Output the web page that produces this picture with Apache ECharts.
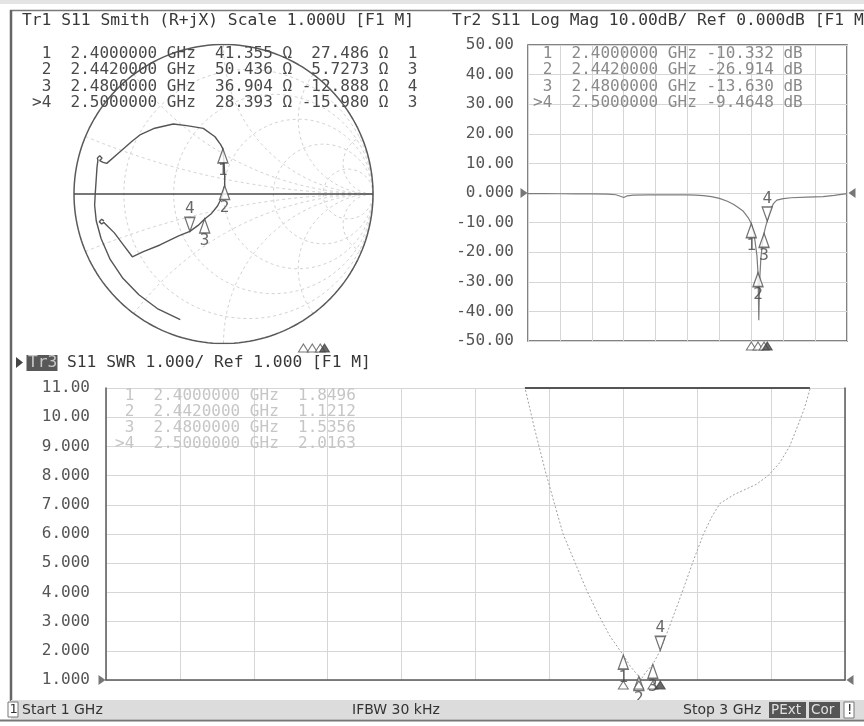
<!DOCTYPE html>
<html><head><meta charset="utf-8">
<script src="https://cdn.jsdelivr.net/npm/echarts@6/dist/echarts.min.js"></script>
<style>html,body{margin:0;padding:0;background:#fff}#c{width:864px;height:726px}</style>
</head><body><div id="c"></div><script>
// ---------------- data ----------------
const markerIds = ['1', '2', '3', '4'];
const activeMarker = 3;
const markerFreqGHz = [2.4, 2.442, 2.48, 2.5];
const markerR = [41.355, 50.436, 36.904, 28.393];
const markerX = [27.486, 5.7273, -12.888, -15.980];
const markerExtra = ['1', '3', '4', '3'];
const markerLogMag = [-10.332, -26.914, -13.630, -9.4648];
const markerSWR = [1.8496, 1.1212, 1.5356, 2.0163];

const logMagFreq = [1.00,1.10,1.20,1.30,1.40,1.50,1.55,1.58,1.60,1.62,1.66,1.75,1.85,1.95,2.00,2.05,2.10,2.15,2.20,2.25,2.29,2.32,2.35,2.38,2.40,2.42,2.435,2.442,2.447,2.452,2.46,2.47,2.48,2.49,2.50,2.52,2.54,2.56,2.60,2.65,2.75,2.85,2.92,3.00];
const logMagDb = [-0.2,-0.2,-0.25,-0.3,-0.3,-0.4,-0.6,-1.1,-1.5,-1.0,-0.7,-0.6,-0.6,-0.6,-0.6,-0.7,-0.9,-1.2,-1.8,-2.8,-3.9,-5.0,-6.2,-8.3,-10.332,-15.0,-21.0,-26.914,-43.0,-30.0,-22.0,-17.0,-13.630,-11.3,-9.4648,-5.5,-3.5,-2.4,-1.9,-1.6,-1.4,-1.2,-0.8,-0.2];

const swrFreq = [2.10,2.134,2.16,2.188,2.21,2.237,2.27,2.30,2.33,2.364,2.40,2.42,2.442,2.448,2.46,2.48,2.50,2.53,2.562,2.59,2.617,2.64,2.662,2.70,2.734,2.76,2.792,2.824,2.85,2.869,2.89,2.905,2.93];
const swrVal = [19,11.0,9.6,8.2,7.2,6.0,5.0,4.1,3.3,2.5,1.8496,1.45,1.1212,1.02,1.25,1.5356,2.0163,3.0,4.1,5.1,6.0,6.6,7.05,7.35,7.55,7.7,8.0,8.45,9.0,9.6,10.3,10.95,12.5];
const swrClipFreq = [2.134, 2.905];
const swrClipVal = [11, 11];

const smithTraceRe = [-0.289,-0.443,-0.566,-0.673,-0.758,-0.819,-0.851,-0.862,-0.858,-0.852,-0.846,-0.840,-0.844,-0.839,-0.828,-0.817,-0.812,-0.817,-0.828,-0.805,-0.781,-0.692,-0.610,-0.559,-0.460,-0.336,-0.246,-0.135,-0.057,-0.019,-0.004,0.004,0.008,0.008,-0.010,-0.040,-0.080,-0.126,-0.170,-0.225,-0.300,-0.425,-0.536,-0.610,-0.670,-0.730,-0.780,-0.800,-0.815,-0.831,-0.815,-0.800];
const smithTraceIm = [-0.841,-0.766,-0.674,-0.564,-0.438,-0.298,-0.181,-0.075,0.000,0.090,0.180,0.226,0.240,0.251,0.256,0.251,0.240,0.229,0.224,0.212,0.205,0.283,0.355,0.395,0.440,0.468,0.457,0.439,0.383,0.330,0.302,0.200,0.120,0.057,-0.020,-0.080,-0.130,-0.167,-0.210,-0.250,-0.280,-0.341,-0.386,-0.420,-0.340,-0.260,-0.210,-0.190,-0.201,-0.185,-0.169,-0.180];

const smithRCircles = [0.2, 0.5, 1, 2, 5];
const smithXArcs = [0.2, 0.5, 1, 2, 5, -0.2, -0.5, -1, -2, -5];

const magTicks = [-50,-40,-30,-20,-10,0,10,20,30,40,50];
const magTickLabels = ['-50.00','-40.00','-30.00','-20.00','-10.00','0.000','10.00','20.00','30.00','40.00','50.00'];
const swrTicks = [1,2,3,4,5,6,7,8,9,10,11];
const swrTickLabels = ['1.000','2.000','3.000','4.000','5.000','6.000','7.000','8.000','9.000','10.00','11.00'];
const refLevelMag = 0, refLevelSWR = 1;
const startGHz = 1, stopGHz = 3;

// ---------------- helpers ----------------
const MONO = '"DejaVu Sans Mono","Liberation Mono",monospace';
const SANS = '"DejaVu Sans",sans-serif';
function zToGamma(r, x) {
  const den = (r + 1) * (r + 1) + x * x;
  return [(r * r + x * x - 1) / den, 2 * x / den];
}
function rCircle(r) {
  const c = r / (1 + r), rad = 1 / (1 + r), pts = [];
  for (let i = 0; i <= 180; i++) { const t = i / 180 * 2 * Math.PI; pts.push([c + rad * Math.cos(t), rad * Math.sin(t)]); }
  return pts;
}
function xArc(x) {
  const pts = [];
  for (let i = 0; i <= 240; i++) { const t = i / 240 * 0.996; pts.push(zToGamma(t / (1 - t), x)); }
  pts.push([1, 0]);
  return pts;
}
const UP = 'path://M5,0L10,14L0,14Z';
const DOWN = 'path://M0,0L10,0L5,14Z';
const UPS = 'path://M5,0L10,8L0,8Z';
const RREF = 'path://M0,0L7,5L0,10Z';
const LREF = 'path://M7,0L0,5L7,10Z';

function markerSeries(xs, ys, xi, yi) {
  return {
    type: 'scatter', xAxisIndex: xi, yAxisIndex: yi, z: 5, clip: false, silent: true,
    data: xs.map((x, i) => {
      const act = i === activeMarker;
      return {
        value: [x, ys[i]],
        symbol: act ? DOWN : UP, symbolSize: [10, 14], symbolOffset: [0, act ? -7 : 7],
        label: { show: true, formatter: markerIds[i], position: act ? 'top' : 'bottom', distance: 0,
          fontFamily: MONO, fontSize: 16, color: '#444', lineHeight: 15 }
      };
    }),
    itemStyle: { color: '#fff', borderColor: '#505050', borderWidth: 1.4 }
  };
}
function stimSeries(yv, xi, yi) {
  return {
    type: 'scatter', xAxisIndex: xi, yAxisIndex: yi, z: 5, clip: false, silent: true,
    data: markerFreqGHz.map((f, i) => ({
      value: [f, yv], symbol: UPS, symbolSize: [10, 8], symbolOffset: [0, 5],
      itemStyle: i === activeMarker ? { color: '#444', borderColor: '#444' } : { color: '#fff', borderColor: '#555' }
    })),
    itemStyle: { borderWidth: 1 }
  };
}
function refSeries(yv, xi, yi) {
  return {
    type: 'scatter', xAxisIndex: xi, yAxisIndex: yi, z: 5, clip: false, silent: true,
    data: [
      { value: [startGHz, yv], symbol: RREF, symbolSize: [7, 10], symbolOffset: [-4, 0] },
      { value: [stopGHz, yv], symbol: LREF, symbolSize: [7, 10], symbolOffset: [5, 0] }
    ],
    itemStyle: { color: '#555' }
  };
}

// ---------------- series ----------------
const series = [];
const gridLine = { color: '#d2d2d2', width: 1, type: [3, 3] };
smithRCircles.forEach(r => series.push({ type: 'line', xAxisIndex: 0, yAxisIndex: 0, data: rCircle(r), showSymbol: false, silent: true, lineStyle: gridLine, z: 1 }));
smithXArcs.forEach(x => series.push({ type: 'line', xAxisIndex: 0, yAxisIndex: 0, data: xArc(x), showSymbol: false, silent: true, lineStyle: gridLine, z: 1 }));
series.push({ type: 'line', xAxisIndex: 0, yAxisIndex: 0, data: rCircle(0), showSymbol: false, silent: true, lineStyle: { color: '#5a5a5a', width: 1.5 }, z: 2 });
series.push({ type: 'line', xAxisIndex: 0, yAxisIndex: 0, data: [[-1, 0], [1, 0]], showSymbol: false, silent: true, lineStyle: { color: '#4a4a4a', width: 1.6 }, z: 2 });
series.push({ type: 'line', xAxisIndex: 0, yAxisIndex: 0, data: smithTraceRe.map((v, i) => [v, smithTraceIm[i]]), showSymbol: false, silent: true, lineStyle: { color: '#555', width: 1.4 }, z: 3 });
const smithMk = markerR.map((r, i) => zToGamma(r / 50, markerX[i] / 50));
series.push(markerSeries(smithMk.map(p => p[0]), smithMk.map(p => p[1]), 0, 0));

series.push({ type: 'line', xAxisIndex: 1, yAxisIndex: 1, data: logMagFreq.map((f, i) => [f, logMagDb[i]]), showSymbol: false, silent: true, lineStyle: { color: '#7c7c7c', width: 1.2 }, z: 3 });
series.push(markerSeries(markerFreqGHz, markerLogMag, 1, 1));
series.push(stimSeries(-50, 1, 1));
series.push(refSeries(refLevelMag, 1, 1));

series.push({ type: 'line', xAxisIndex: 2, yAxisIndex: 2, data: swrFreq.map((f, i) => [f, swrVal[i]]), showSymbol: false, silent: true, lineStyle: { color: '#a0a0a0', width: 1, type: [2, 2] }, z: 3 });
series.push({ type: 'line', xAxisIndex: 2, yAxisIndex: 2, data: swrClipFreq.map((f, i) => [f, swrClipVal[i]]), showSymbol: false, silent: true, clip: false, lineStyle: { color: '#555', width: 2 }, z: 3 });
series.push(markerSeries(markerFreqGHz, markerSWR, 2, 2));
series.push(stimSeries(1, 2, 2));
series.push(refSeries(refLevelSWR, 2, 2));

series.push(stimSeries(0, 3, 4));

// ---------------- texts ----------------
const p5 = v => v.toPrecision(5);
const pre = i => (i === activeMarker ? '>' : ' ') + markerIds[i] + '  ' + markerFreqGHz[i].toFixed(7) + ' GHz';
const smithRows = markerIds.map((_, i) => pre(i) + '  ' + p5(markerR[i]).padStart(6) + ' Ω ' + p5(markerX[i]).padStart(7) + ' Ω  ' + markerExtra[i]);
const magRows = markerIds.map((_, i) => pre(i) + ' ' + p5(markerLogMag[i]).padStart(7) + ' dB');
const swrRows = markerIds.map((_, i) => pre(i) + '  ' + p5(markerSWR[i]));

function txt(t, x, y, size, color, font, extra) {
  return Object.assign({ type: 'text', x: x, y: y, z: 50, silent: true,
    style: { text: t, fontFamily: font || MONO, fontSize: size, fill: color, verticalAlign: 'middle', align: 'left' } }, extra || {});
}
const graphics = [
  { type: 'rect', shape: { x: 0, y: 0, width: 864, height: 4 }, style: { fill: '#e4e4e4' }, z: 40 },
  { type: 'line', shape: { x1: 10, y1: 10.5, x2: 864, y2: 10.5 }, style: { stroke: '#7a7a7a', lineWidth: 1.5 }, z: 40 },
  { type: 'line', shape: { x1: 11, y1: 10, x2: 11, y2: 701 }, style: { stroke: '#666', lineWidth: 2.5 }, z: 40 },
  txt('Tr1 S11 Smith (R+jX) Scale 1.000U [F1 M]', 22, 21, 16.3, '#383838'),
  txt('Tr2 S11 Log Mag 10.00dB/ Ref 0.000dB [F1 M', 452, 21, 16.3, '#383838'),
  { type: 'polygon', shape: { points: [[16, 357], [23, 362.5], [16, 368]] }, style: { fill: '#444' }, z: 40 },
  { type: 'rect', shape: { x: 26.5, y: 355, width: 31, height: 16 }, style: { fill: '#585858' }, z: 45 },
  txt('Tr3', 28, 363, 16.3, '#c8c8c8'),
  txt('S11 SWR 1.000/ Ref 1.000 [F1 M]', 67, 363, 16.3, '#383838')
];
smithRows.forEach((r, i) => graphics.push(txt(r, 32, 54 + i * 16.2, 16, '#4a4a4a')));
magRows.forEach((r, i) => graphics.push(txt(r, 533, 54 + i * 16.2, 16, '#8a8a8a')));
swrRows.forEach((r, i) => graphics.push(txt(r, 115, 396 + i * 16, 16, '#c6c6c6')));
// status bar
graphics.push({ type: 'rect', shape: { x: 11, y: 700, width: 853, height: 19 }, style: { fill: '#dcdcdc' }, z: 100 });
graphics.push({ type: 'line', shape: { x1: 0, y1: 720.5, x2: 864, y2: 720.5 }, style: { stroke: '#777', lineWidth: 2 }, z: 100 });
graphics.push({ type: 'rect', shape: { x: 8, y: 702, width: 10, height: 15 }, style: { fill: '#fff', stroke: '#777', lineWidth: 1 }, z: 101 });
graphics.push(txt('1', 9.5, 710, 13, '#333', SANS, { z: 102 }));
graphics.push(txt('Start 1 GHz', 22, 710, 14, '#333', SANS, { z: 102 }));
graphics.push(txt('IFBW 30 kHz', 352, 710, 14, '#333', SANS, { z: 102 }));
graphics.push(txt('Stop 3 GHz', 683, 710, 14, '#333', SANS, { z: 102 }));
graphics.push({ type: 'rect', shape: { x: 769, y: 702, width: 37, height: 16 }, style: { fill: '#555' }, z: 101 });
graphics.push(txt('PExt', 771, 710, 13.5, '#e0e0e0', SANS, { z: 102 }));
graphics.push({ type: 'rect', shape: { x: 809, y: 702, width: 31, height: 16 }, style: { fill: '#555' }, z: 101 });
graphics.push(txt('Cor', 811, 710, 13.5, '#e0e0e0', SANS, { z: 102 }));
graphics.push({ type: 'rect', shape: { x: 844, y: 702, width: 10, height: 16 }, style: { fill: '#fff', stroke: '#777', lineWidth: 1 }, z: 101 });
graphics.push(txt('!', 847, 710, 13.5, '#333', SANS, { z: 102 }));

// ---------------- option ----------------
const split = { show: true, lineStyle: { color: '#d6d6d6', width: 1 } };
const hidden = { show: false };
const option = {
  animation: false,
  backgroundColor: '#fff',
  grid: [
    { left: 74, top: 44.5, width: 299, height: 299, show: false },
    { left: 528, top: 45, width: 319, height: 296, show: true, borderColor: '#5a5a5a', borderWidth: 1.5 },
    { left: 106, top: 388, width: 739, height: 292, show: false },
    { left: 8, top: 342, width: 422, height: 1, show: false }
  ],
  xAxis: [
    { type: 'value', gridIndex: 0, min: -1, max: 1, show: false },
    { type: 'value', gridIndex: 1, min: startGHz, max: stopGHz, interval: 0.2, axisLabel: hidden, axisLine: hidden, axisTick: hidden, splitLine: split },
    { type: 'value', gridIndex: 2, min: startGHz, max: stopGHz, interval: 0.2, axisLabel: hidden, axisTick: hidden, splitLine: split,
      axisLine: { show: true, onZero: false, lineStyle: { color: '#5a5a5a', width: 1.5 } } },
    { type: 'value', gridIndex: 3, min: startGHz, max: stopGHz, show: false }
  ],
  yAxis: [
    { type: 'value', gridIndex: 0, min: -1, max: 1, show: false },
    { type: 'value', gridIndex: 1, min: -50, max: 50, interval: 10, axisLine: hidden, axisTick: hidden, splitLine: split,
      axisLabel: { margin: 14, fontFamily: MONO, fontSize: 16, color: '#555',
        formatter: v => magTickLabels[magTicks.indexOf(Math.round(v))] } },
    { type: 'value', gridIndex: 2, min: 1, max: 11, interval: 1, axisTick: hidden, splitLine: split,
      axisLine: { show: true, onZero: false, lineStyle: { color: '#5a5a5a', width: 1.5 } },
      axisLabel: { margin: 16, fontFamily: MONO, fontSize: 16, color: '#555',
        formatter: v => swrTickLabels[swrTicks.indexOf(Math.round(v))] } },
    { type: 'value', gridIndex: 2, position: 'right', min: 1, max: 11, interval: 1, axisTick: hidden, axisLabel: hidden, splitLine: hidden,
      axisLine: { show: true, onZero: false, lineStyle: { color: '#5a5a5a', width: 1.5 } } },
    { type: 'value', gridIndex: 3, min: 0, max: 1, show: false }
  ],
  graphic: graphics,
  series: series
};
const chart = echarts.init(document.getElementById('c'), null, { renderer: 'canvas', width: 864, height: 726 });
chart.setOption(option);
</script></body></html>
